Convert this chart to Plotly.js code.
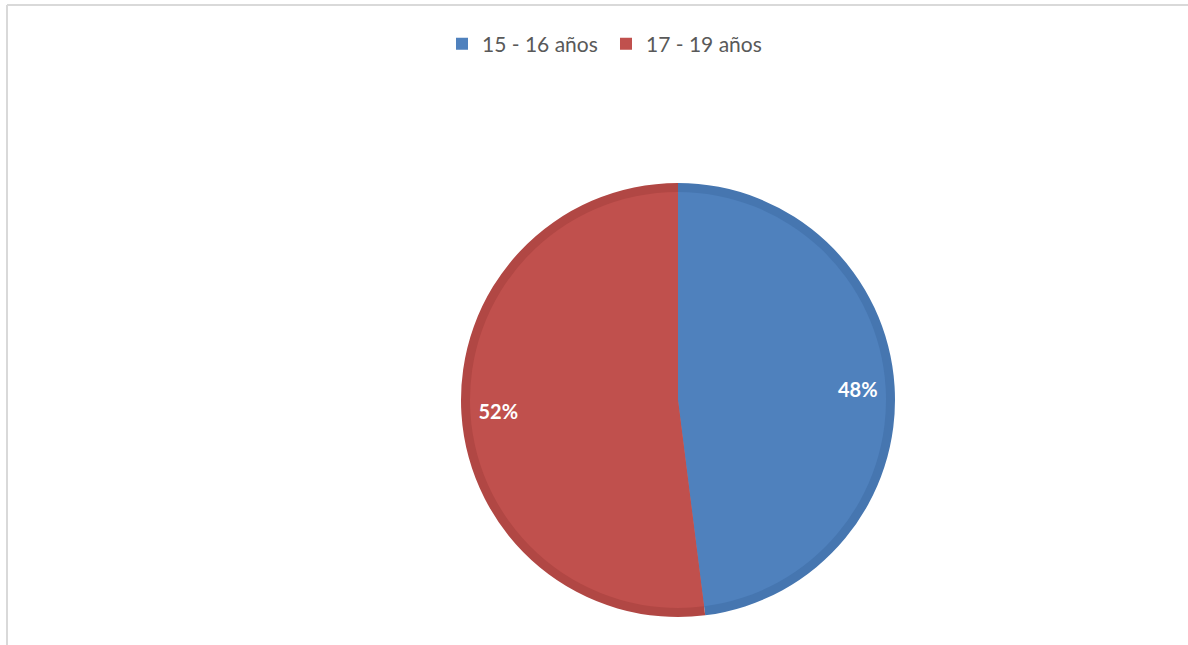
<!DOCTYPE html>
<html>
<head>
<meta charset="utf-8">
<script src="https://cdn.plot.ly/plotly-3.0.1.min.js"></script>
<style>html,body{margin:0;padding:0;background:#fff}#chart{width:1188px;height:645px}</style>
</head>
<body>
<div id="chart"></div>
<script>
var categories = ["15 - 16 años", "17 - 19 años"];
var values = [48, 52];
var colors = ["#4f81bd", "#c0504d"];
var edgeColors = ["#4676b0", "#b14744"];

var W = 1188, H = 645;
var cx = 678, cy = 400, R = 217, Ri = 208;
function dom(r) {
  return {
    x: [(cx - r) / W, (cx + r) / W],
    y: [(H - cy - r) / H, (H - cy + r) / H]
  };
}

var common = {
  type: "pie",
  labels: categories,
  values: values,
  sort: false,
  direction: "clockwise",
  rotation: 0,
  hoverinfo: "label+percent"
};

var outer = Object.assign({}, common, {
  domain: dom(R),
  marker: { colors: edgeColors, line: { color: "rgba(0,0,0,0)", width: 0 } },
  textinfo: "none",
  showlegend: false
});
var inner = Object.assign({}, common, {
  domain: dom(Ri),
  marker: { colors: colors, line: { color: "rgba(0,0,0,0)", width: 0 } },
  textinfo: "none"
});
var labelRing = Object.assign({}, common, {
  domain: dom(R),
  hole: 0.66,
  marker: { colors: ["rgba(0,0,0,0)", "rgba(0,0,0,0)"], line: { color: "rgba(0,0,0,0)", width: 0 } },
  texttemplate: "%{percent:.0%}",
  textposition: "inside",
  insidetextorientation: "horizontal",
  textfont: { family: "Lato, 'Open Sans', sans-serif", size: 20, color: "#ffffff", weight: "bold" },
  showlegend: false
});

var layout = {
  width: W, height: H,
  margin: { l: 0, r: 0, t: 0, b: 0 },
  paper_bgcolor: "#ffffff",
  showlegend: true,
  legend: {
    orientation: "h",
    x: 0.5101, xanchor: "center",
    y: 1 - 44 / H, yanchor: "middle",
    font: { family: "Lato, 'Open Sans', sans-serif", size: 21, color: "#595959" },
    itemwidth: 30,
    entrywidth: 119,
    entrywidthmode: "pixels",
    traceorder: "normal"
  },
  shapes: [
    { type: "line", xref: "paper", yref: "paper", x0: 7 / W, x1: 1, y0: 1 - 5 / H, y1: 1 - 5 / H, line: { color: "#d9d9d9", width: 2 } },
    { type: "line", xref: "paper", yref: "paper", x0: 7 / W, x1: 7 / W, y0: 0, y1: 1 - 5 / H, line: { color: "#d9d9d9", width: 2 } }
  ]
};

Plotly.newPlot("chart", [outer, inner, labelRing], layout, { displayModeBar: false, staticPlot: true });
</script>
</body>
</html>
